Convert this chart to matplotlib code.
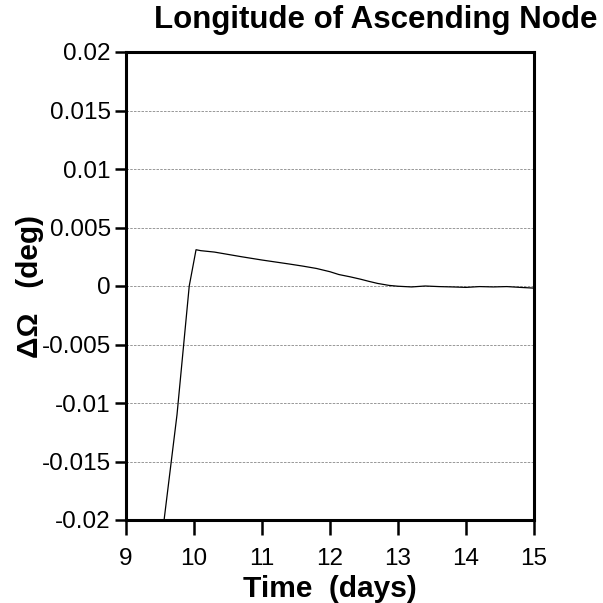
import matplotlib
matplotlib.use("Agg")
import matplotlib.pyplot as plt

# ---- data ----
time_days = [9.56, 9.75, 9.93, 10.03, 10.10, 10.30, 10.50, 10.70, 11.00, 11.20,
             11.40, 11.60, 11.80, 12.00, 12.13, 12.30, 12.45, 12.57, 12.70, 12.87,
             13.00, 13.20, 13.40, 13.60, 13.80, 14.00, 14.20, 14.40, 14.60, 14.80, 15.00]
delta_omega = [-0.0200, -0.0110, 0.0000, 0.0031, 0.00302, 0.0029, 0.0027, 0.0025, 0.00222, 0.00205,
               0.00188, 0.0017, 0.0015, 0.00122, 0.00098, 0.00078, 0.00058, 0.0004, 0.00022, 0.00005,
               -0.00002, -0.00008, 0.00000, -0.00005, -0.00008, -0.00012, -0.00005, -0.00008, -0.00005, -0.00012, -0.00018]

x_ticks = [9, 10, 11, 12, 13, 14, 15]
y_ticks = [-0.02, -0.015, -0.01, -0.005, 0, 0.005, 0.01, 0.015, 0.02]
y_tick_labels = ["-0.02", "-0.015", "-0.01", "-0.005", "0", "0.005", "0.01", "0.015", "0.02"]

title = "Longitude of Ascending Node"
xlabel = "Time  (days)"
ylabel = "\u0394\u03a9   (deg)"

plt.rcParams['font.family'] = ['Liberation Sans', 'DejaVu Sans']

fig = plt.figure(figsize=(6.03, 6.03), dpi=100)
ax = fig.add_axes([126/603, 1-520/603, (534-126)/603, (520-52)/603])

ax.plot(time_days, delta_omega, color='black', lw=0.9)

ax.set_xlim(9, 15)
ax.set_ylim(-0.02, 0.02)
ax.set_xticks(x_ticks)
ax.set_xticklabels([str(t) for t in x_ticks])
ax.set_yticks(y_ticks)
ax.set_yticklabels(y_tick_labels)

for yv in y_ticks[1:-1]:
    ax.axhline(yv, color='#888888', lw=0.6, ls=(0, (3, 1.5)), zorder=0)

for s in ax.spines.values():
    s.set_linewidth(2.2)

ax.tick_params(axis='x', direction='out', length=11, width=1.8, labelsize=17.5, pad=9)
ax.tick_params(axis='y', direction='out', length=8, width=1.8, labelsize=17.5, pad=3)

ax.set_xlabel(xlabel, fontsize=21.5, fontweight='bold')
ax.xaxis.set_label_coords(0.5, -0.118)
ax.set_ylabel(ylabel, fontsize=21.5, fontweight='bold')
ax.yaxis.set_label_coords(-0.2, 0.5)

fig.text(376/603, 1-5/603, title, fontsize=22.5, fontweight='bold', ha='center', va='top')

fig.savefig("out.png", dpi=100)
